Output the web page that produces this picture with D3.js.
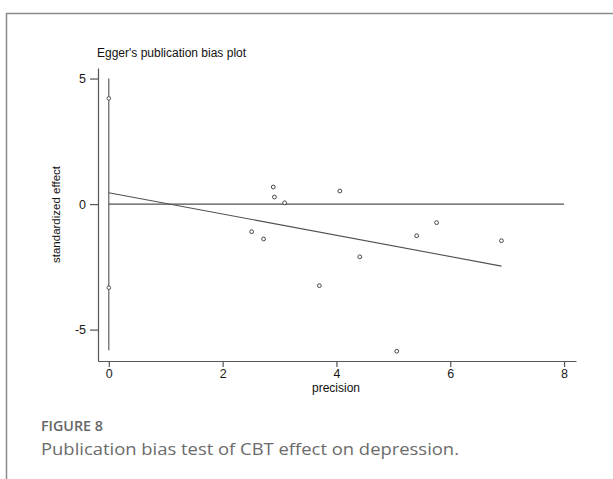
<!DOCTYPE html>
<html>
<head>
<meta charset="utf-8">
<script src="https://cdn.jsdelivr.net/npm/d3@7/dist/d3.min.js"></script>
<style>
  html, body { margin: 0; padding: 0; background: #fff; }
  svg { display: block; }
</style>
</head>
<body>
<svg id="chart" width="613" height="479"></svg>
<script>
// Study points: precision (1/SE) and standardized effect (effect/SE)
const precision = [2.89, 2.91, 3.09, 4.06, 2.51, 2.72, 3.70, 4.41, 5.41, 5.76, 6.90, 5.06];
const stdEffect = [0.68, 0.28, 0.05, 0.52, -1.10, -1.39, -3.25, -2.10, -1.26, -0.74, -1.46, -5.86];

// Markers drawn on the precision = 0 line
const zeroMarks = [4.21, -3.33];
// Vertical bar at precision = 0
const zeroBar = [5.0, -5.82];
// Fitted Egger regression line: [precision, standardized effect] end points
const fitLine = [[0, 0.45], [6.90, -2.47]];
// Reference line at zero effect
const refLine = [[0, 0], [8, 0]];

const xTicks = [0, 2, 4, 6, 8];
const yTicks = [5, 0, -5];

const svg = d3.select("#chart");
const font = "'Liberation Sans', Arial, sans-serif";

// Outer panel frame
svg.append("path")
  .attr("d", "M6.5,620 L6.5,13.5 L700,13.5")
  .attr("fill", "none")
  .attr("stroke", "#8a8a8a")
  .attr("stroke-width", 1.5);

const x = d3.scaleLinear().domain([-0.19, 8.21]).range([98, 576]);
const y = d3.scaleLinear().domain([-6.25, 5.42]).range([361, 68]);

const axisColor = "#555";

// Y axis
const yAxis = svg.append("g")
  .attr("transform", `translate(${x(-0.19)},0)`)
  .call(d3.axisLeft(y).tickValues(yTicks).tickSize(8).tickPadding(4).tickSizeOuter(0)
    .tickFormat(d => d < 0 ? "-" + Math.abs(d) : d));
yAxis.select(".domain").attr("stroke", axisColor).attr("stroke-width", 1.2);
yAxis.selectAll(".tick line").attr("stroke", axisColor).attr("stroke-width", 1.2);
yAxis.selectAll(".tick text").attr("fill", "#1a1a1a").attr("font-size", 12.5).attr("font-family", font);

// X axis
const xAxis = svg.append("g")
  .attr("transform", `translate(0,${y(-6.25)})`)
  .call(d3.axisBottom(x).tickValues(xTicks).tickSize(6).tickPadding(2).tickSizeOuter(0));
xAxis.select(".domain").attr("stroke", axisColor).attr("stroke-width", 1.2);
xAxis.selectAll(".tick line").attr("stroke", axisColor).attr("stroke-width", 1.2);
xAxis.selectAll(".tick text").attr("fill", "#1a1a1a").attr("font-size", 12.5).attr("font-family", font);

const lineGen = d3.line().x(d => x(d[0])).y(d => y(d[1]));
const lineColor = "#505050";

// Zero reference line
svg.append("path").attr("d", lineGen(refLine))
  .attr("fill", "none").attr("stroke", lineColor).attr("stroke-width", 1.1);

// Vertical bar at precision 0
svg.append("path").attr("d", lineGen(zeroBar.map(v => [0, v])))
  .attr("fill", "none").attr("stroke", lineColor).attr("stroke-width", 1.1);

// Regression line
svg.append("path").attr("d", lineGen(fitLine))
  .attr("fill", "none").attr("stroke", lineColor).attr("stroke-width", 1.1);

// Markers on the zero-precision bar
svg.selectAll("circle.zero").data(zeroMarks).enter().append("circle")
  .attr("class", "zero")
  .attr("cx", x(0)).attr("cy", d => y(d)).attr("r", 1.8)
  .attr("fill", "#fff").attr("stroke", "#444").attr("stroke-width", 0.9);

// Study markers
svg.selectAll("circle.pt").data(precision).enter().append("circle")
  .attr("class", "pt")
  .attr("cx", d => x(d)).attr("cy", (d, i) => y(stdEffect[i])).attr("r", 1.9)
  .attr("fill", "#fff").attr("stroke", "#333").attr("stroke-width", 0.9);

// Plot title
svg.append("text").attr("x", 97).attr("y", 57)
  .attr("font-family", font).attr("font-size", 12).attr("fill", "#111")
  .text("Egger's publication bias plot");

// Axis titles
svg.append("text").attr("x", 336).attr("y", 392).attr("text-anchor", "middle")
  .attr("font-family", font).attr("font-size", 12).attr("fill", "#111")
  .text("precision");

svg.append("text")
  .attr("transform", "translate(60,214.5) rotate(-90)")
  .attr("text-anchor", "middle")
  .attr("font-family", font).attr("font-size", 11.5).attr("fill", "#111")
  .text("standardized effect");

// Figure caption
svg.append("text").attr("x", 41).attr("y", 431)
  .attr("font-family", "'Open Sans', sans-serif").attr("font-size", 15)
  .attr("font-weight", 600).attr("fill", "#666")
  .attr("textLength", 62).attr("lengthAdjust", "spacingAndGlyphs")
  .text("FIGURE 8");

svg.append("text").attr("x", 41).attr("y", 455)
  .attr("font-family", "'Open Sans', sans-serif").attr("font-size", 17)
  .attr("font-weight", 400).attr("fill", "#6b6b6b")
  .attr("textLength", 418).attr("lengthAdjust", "spacingAndGlyphs")
  .text("Publication bias test of CBT effect on depression.");
</script>
</body>
</html>
